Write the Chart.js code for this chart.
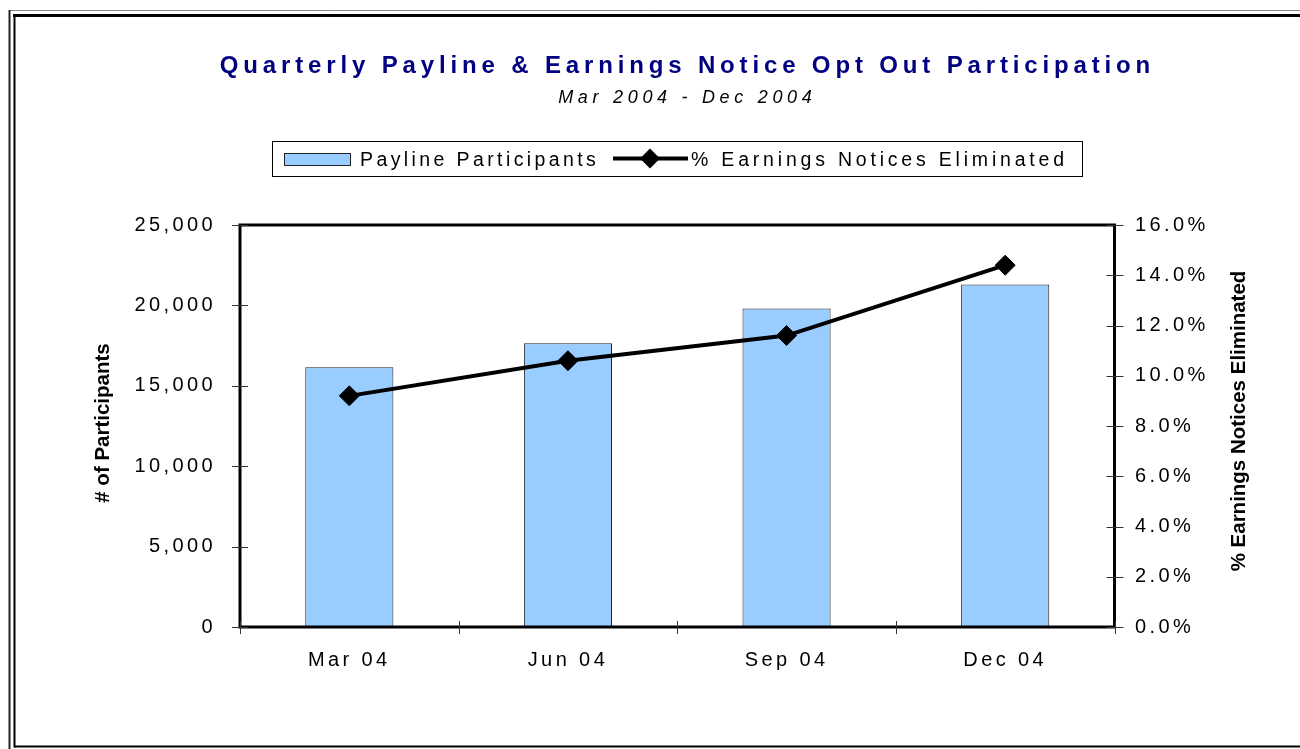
<!DOCTYPE html>
<html><head><meta charset="utf-8">
<script src="https://cdn.jsdelivr.net/npm/chart.js@4/dist/chart.umd.min.js"></script>
<style>html,body{margin:0;padding:0;background:#fff;} #wrap{width:1300px;height:749px;position:relative;}</style>
</head><body><div id="wrap"><canvas id="c" width="1300" height="749"></canvas></div>
<script>
// ---- data ----
const categories = ['Mar 04', 'Jun 04', 'Sep 04', 'Dec 04'];
const participants = [16150, 17650, 19800, 21300];
const pctEliminated = [9.2, 10.6, 11.6, 14.4];
const leftTickRange = [0, 25000, 5000];
const rightTickRange = [0, 16, 2];
const titleText = 'Quarterly Payline & Earnings Notice Opt Out Participation';
const subtitleText = 'Mar 2004 - Dec 2004';
const leftAxisTitle = '# of Participants';
const rightAxisTitle = '% Earnings Notices Eliminated';
const seriesNames = ['Payline Participants', '% Earnings Notices Eliminated'];

const FONT = "'Liberation Sans', Arial, Helvetica, sans-serif";
const BAR_FILL = '#99CCFF';

function seg(ctx, x1, y1, x2, y2) { ctx.beginPath(); ctx.moveTo(x1, y1); ctx.lineTo(x2, y2); ctx.stroke(); }
function spacedText(ctx, txt, x, y, spacing, align) {
  ctx.letterSpacing = spacing + 'px';
  ctx.textAlign = 'left';
  const w = ctx.measureText(txt).width - spacing;
  let sx = x;
  if (align === 'center') sx = x - w / 2;
  else if (align === 'right') sx = x - w;
  ctx.fillText(txt, sx, y);
  ctx.letterSpacing = '0px';
}

const decor = {
  id: 'decor',
  beforeDraw(chart) {
    const ctx = chart.ctx;
    ctx.save();
    ctx.fillStyle = '#fff';
    ctx.fillRect(0, 0, chart.width, chart.height);
    ctx.restore();
    ctx.letterSpacing = '3.4px';
  },
  afterDraw(chart) {
    const ctx = chart.ctx;
    const a = chart.chartArea;
    ctx.letterSpacing = '0px';
    ctx.save();
    // outer frame
    ctx.strokeStyle = '#888'; ctx.lineWidth = 1;
    seg(ctx, 9, 10.5, 1300, 10.5);
    ctx.strokeStyle = '#222'; ctx.lineWidth = 2;
    seg(ctx, 9.5, 10, 9.5, 749);
    ctx.strokeStyle = '#000'; ctx.lineWidth = 3;
    seg(ctx, 13, 15.5, 1300, 15.5);
    ctx.lineWidth = 2;
    seg(ctx, 14.5, 15, 14.5, 747.5);
    seg(ctx, 14, 746.5, 1300, 746.5);

    // plot rectangle
    ctx.strokeStyle = '#000'; ctx.lineWidth = 3;
    ctx.strokeRect(a.left, a.top, a.right - a.left, a.bottom - a.top);

    // tick marks crossing the axes
    ctx.strokeStyle = '#333'; ctx.lineWidth = 1;
    const yl = chart.scales.y, yr = chart.scales.y1, xs = chart.scales.x;
    yl.ticks.forEach((t, i) => { const p = Math.round(yl.getPixelForTick(i)) + 0.5; seg(ctx, a.left - 8, p, a.left + 8, p); });
    yr.ticks.forEach((t, i) => { const p = Math.round(yr.getPixelForTick(i)) + 0.5; seg(ctx, a.right - 8, p, a.right + 9, p); });
    const n = xs.ticks.length;
    for (let i = 0; i <= n; i++) {
      const p = Math.round(xs.left + (xs.right - xs.left) * i / n) + 0.5;
      seg(ctx, p, a.bottom - 6, p, a.bottom + 7);
    }

    // title & subtitle
    ctx.fillStyle = '#000080';
    ctx.font = 'bold 24px ' + FONT;
    ctx.textBaseline = 'alphabetic';
    spacedText(ctx, titleText, 685, 73, 4.85, 'center');
    ctx.fillStyle = '#000';
    ctx.font = 'italic 18px ' + FONT;
    spacedText(ctx, subtitleText, 685, 103, 4.7, 'center');

    // legend
    ctx.strokeStyle = '#000'; ctx.lineWidth = 1;
    ctx.strokeRect(272.5, 141.5, 810, 35);
    ctx.fillStyle = BAR_FILL;
    ctx.fillRect(284, 153, 67, 13);
    ctx.strokeStyle = '#222';
    ctx.strokeRect(284.5, 153.5, 66, 12);
    ctx.fillStyle = '#000';
    ctx.font = '19.5px ' + FONT;
    spacedText(ctx, seriesNames[0], 360, 166, 3.4, 'left');
    ctx.strokeStyle = '#000'; ctx.lineWidth = 4;
    seg(ctx, 613, 158.5, 688, 158.5);
    ctx.beginPath();
    ctx.moveTo(640, 158.5); ctx.lineTo(650, 148.5); ctx.lineTo(660, 158.5); ctx.lineTo(650, 168.5); ctx.closePath();
    ctx.fill();
    spacedText(ctx, seriesNames[1], 691, 166, 3.8, 'left');

    // axis titles
    ctx.font = 'bold 20.5px ' + FONT;
    ctx.textBaseline = 'middle';
    ctx.save();
    ctx.translate(103, 423); ctx.rotate(-Math.PI / 2);
    ctx.textAlign = 'center'; ctx.fillText(leftAxisTitle, 0, 0);
    ctx.restore();
    ctx.save();
    ctx.translate(1239, 421); ctx.rotate(-Math.PI / 2);
    ctx.textAlign = 'center'; ctx.fillText(rightAxisTitle, 0, 0);
    ctx.restore();
    ctx.restore();
  }
};

const tickFont = { family: FONT, size: 20 };

new Chart(document.getElementById('c'), {
  data: {
    labels: categories,
    datasets: [
      {
        type: 'line', label: seriesNames[1], data: pctEliminated, yAxisID: 'y1',
        borderColor: '#000', backgroundColor: '#000', borderWidth: 4, tension: 0,
        pointStyle: 'rectRot', pointRadius: 10, pointBackgroundColor: '#000', pointBorderColor: '#000', pointBorderWidth: 1,
        order: 1
      },
      {
        type: 'bar', label: seriesNames[0], data: participants, yAxisID: 'y',
        backgroundColor: BAR_FILL, borderColor: '#222', borderWidth: 1,
        barPercentage: 0.403, categoryPercentage: 1.0,
        order: 2
      }
    ]
  },
  options: {
    responsive: false,
    animation: false,
    events: [],
    layout: { padding: { top: 225, left: 0, right: 0, bottom: 0 } },
    plugins: { legend: { display: false }, title: { display: false }, tooltip: { enabled: false } },
    scales: {
      x: {
        type: 'category',
        grid: { display: false, offset: true },
        border: { display: false },
        ticks: { font: tickFont, color: '#000', padding: 13, maxRotation: 0 },
        afterFit(s) { s.height = 122; }
      },
      y: {
        position: 'left', min: leftTickRange[0], max: leftTickRange[1],
        grid: { display: false }, border: { display: false },
        ticks: { stepSize: leftTickRange[2], font: tickFont, color: '#000', padding: 16,
          callback: v => v.toLocaleString('en-US') },
        afterFit(s) { s.width = 240; }
      },
      y1: {
        position: 'right', min: rightTickRange[0], max: rightTickRange[1],
        grid: { display: false }, border: { display: false },
        ticks: { stepSize: rightTickRange[2], font: tickFont, color: '#000', padding: 12.5,
          callback: v => v.toFixed(1) + '%' },
        afterFit(s) { s.width = 185.5; }
      }
    }
  },
  plugins: [decor]
});
</script>
</body></html>
